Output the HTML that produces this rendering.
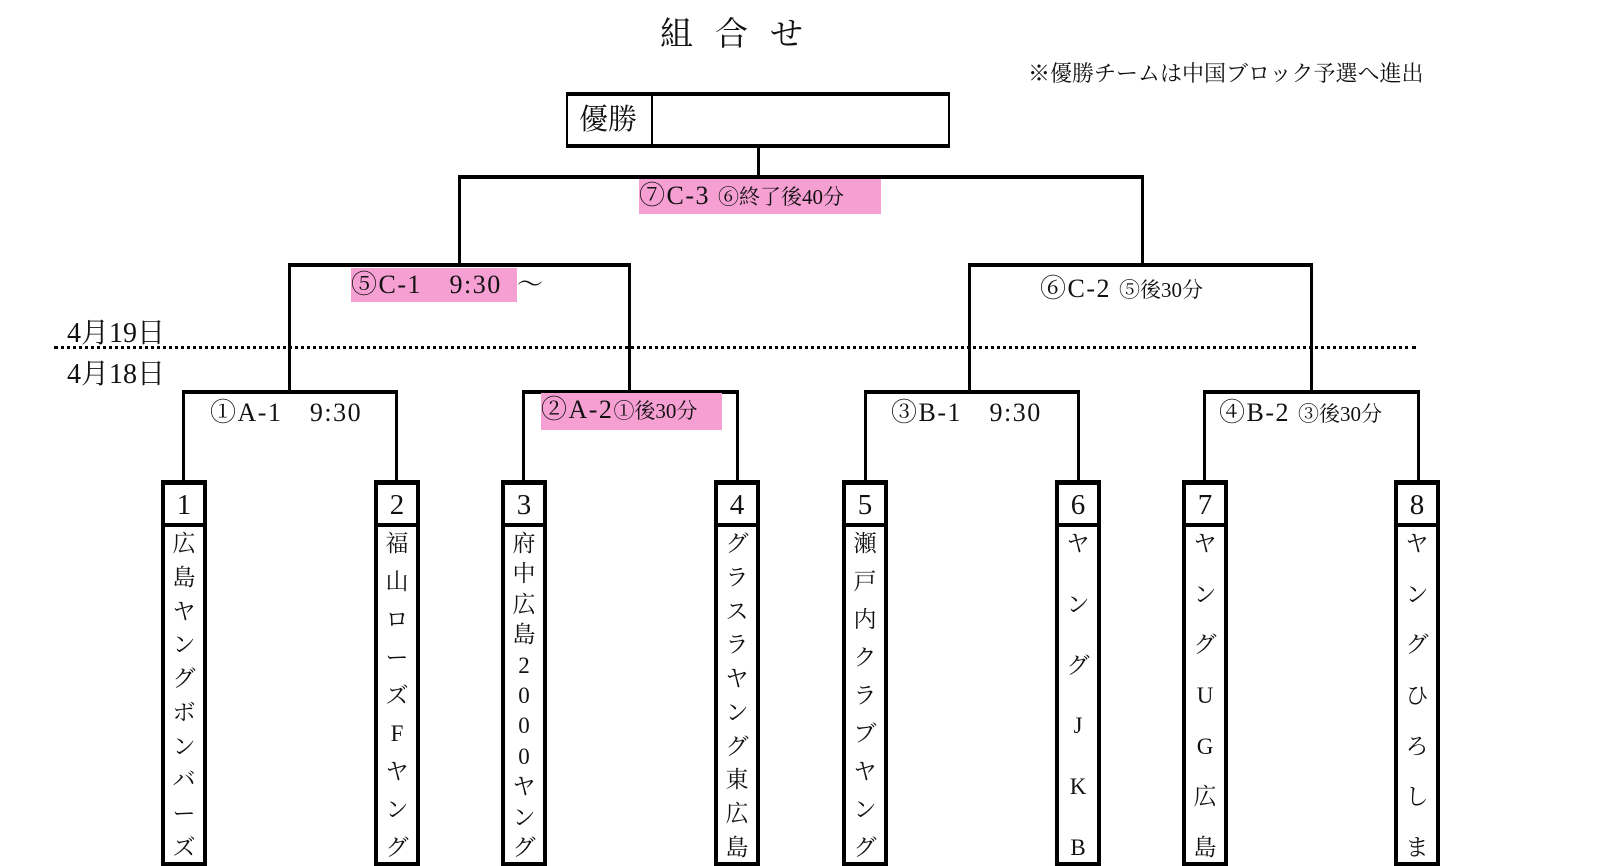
<!DOCTYPE html>
<html><head><meta charset="utf-8">
<style>
body{margin:0;width:1619px;height:862px;background:#fff;position:relative;overflow:hidden;font-family:"Liberation Serif","Noto Serif CJK SC",serif;color:#111}
.a{position:absolute}
.h{position:absolute;background:#000;height:4px}
.v{position:absolute;background:#000;width:3px}
.pink{background:#f59fd3}
.lbl{position:absolute;font-size:26px;white-space:nowrap;line-height:34px;letter-spacing:1.5px}
.lbl small{font-size:21px;letter-spacing:0}
.team{position:absolute;top:480px;width:38px;height:377px;border:4px solid #000;border-top-width:5px;border-bottom-width:4px}
.num{height:38px;border-bottom:4px solid #000;text-align:center;font-size:29px;line-height:40px}
.nm{height:335px;display:flex;flex-direction:column;justify-content:space-between;align-items:center;font-size:23px;line-height:27px;padding:3px 0 1px;box-sizing:border-box}
</style></head><body>
<div class="a" style="left:660px;top:8px;font-size:33px;letter-spacing:22px">組合せ</div>
<div class="a" style="left:1028px;top:57px;font-size:22px">※優勝チームは中国ブロック予選へ進出</div>

<div class="a" style="left:566px;top:92px;width:380px;height:48px;border:2px solid #000;border-top-width:4px;border-bottom-width:4px"></div>
<div class="v" style="left:651px;top:94px;height:50px;width:2px"></div>
<div class="a" style="left:579px;top:97px;font-size:29px">優勝</div>

<div class="v" style="left:757px;top:146px;height:32px"></div>
<div class="h" style="left:458px;top:175px;width:686px"></div>
<div class="v" style="left:458px;top:175px;height:92px"></div>
<div class="v" style="left:1141px;top:175px;height:92px"></div>
<div class="lbl pink" style="left:639px;top:179px;width:242px">⑦C-3 <small>⑥終了後40分</small></div>

<div class="h" style="left:288px;top:263px;width:343px"></div>
<div class="v" style="left:288px;top:263px;height:130px"></div>
<div class="v" style="left:628px;top:263px;height:130px"></div>
<div class="lbl" style="left:351px;top:268px"><span class="pink" style="display:inline-block;width:166px">⑤C-1　9:30</span>～</div>

<div class="h" style="left:968px;top:263px;width:345px"></div>
<div class="v" style="left:968px;top:263px;height:130px"></div>
<div class="v" style="left:1310px;top:263px;height:130px"></div>
<div class="lbl" style="left:1040px;top:272px">⑥C-2 <small>⑤後30分</small></div>

<div class="a" style="left:54px;top:346px;width:1362px;border-top:3px dotted #000"></div>
<div class="a" style="left:67px;top:311px;font-size:28px">4月19日</div>
<div class="a" style="left:67px;top:352px;font-size:28px">4月18日</div>

<div class="h" style="left:182px;top:390px;width:216px"></div>
<div class="v" style="left:182px;top:390px;height:92px"></div>
<div class="v" style="left:395px;top:390px;height:92px"></div>
<div class="lbl" style="left:210px;top:396px">①A-1　9:30</div>

<div class="h" style="left:522px;top:390px;width:217px"></div>
<div class="v" style="left:522px;top:390px;height:92px"></div>
<div class="v" style="left:736px;top:390px;height:92px"></div>
<div class="lbl pink" style="left:541px;top:393px;width:181px;height:37px">②A-2<small>①後30分</small></div>

<div class="h" style="left:864px;top:390px;width:216px"></div>
<div class="v" style="left:864px;top:390px;height:92px"></div>
<div class="v" style="left:1077px;top:390px;height:92px"></div>
<div class="lbl" style="left:891px;top:396px">③B-1　9:30</div>

<div class="h" style="left:1203px;top:390px;width:217px"></div>
<div class="v" style="left:1203px;top:390px;height:92px"></div>
<div class="v" style="left:1417px;top:390px;height:92px"></div>
<div class="lbl" style="left:1219px;top:396px">④B-2 <small>③後30分</small></div>

<div class="team" style="left:161px"><div class="num">1</div><div class="nm"><span>広</span><span>島</span><span>ヤ</span><span>ン</span><span>グ</span><span>ボ</span><span>ン</span><span>バ</span><span>ー</span><span>ズ</span></div></div>
<div class="team" style="left:374px"><div class="num">2</div><div class="nm"><span>福</span><span>山</span><span>ロ</span><span>ー</span><span>ズ</span><span>F</span><span>ヤ</span><span>ン</span><span>グ</span></div></div>
<div class="team" style="left:501px"><div class="num">3</div><div class="nm"><span>府</span><span>中</span><span>広</span><span>島</span><span>2</span><span>0</span><span>0</span><span>0</span><span>ヤ</span><span>ン</span><span>グ</span></div></div>
<div class="team" style="left:714px"><div class="num">4</div><div class="nm"><span>グ</span><span>ラ</span><span>ス</span><span>ラ</span><span>ヤ</span><span>ン</span><span>グ</span><span>東</span><span>広</span><span>島</span></div></div>
<div class="team" style="left:842px"><div class="num">5</div><div class="nm"><span>瀬</span><span>戸</span><span>内</span><span>ク</span><span>ラ</span><span>ブ</span><span>ヤ</span><span>ン</span><span>グ</span></div></div>
<div class="team" style="left:1055px"><div class="num">6</div><div class="nm"><span>ヤ</span><span>ン</span><span>グ</span><span>J</span><span>K</span><span>B</span></div></div>
<div class="team" style="left:1182px"><div class="num">7</div><div class="nm"><span>ヤ</span><span>ン</span><span>グ</span><span>U</span><span>G</span><span>広</span><span>島</span></div></div>
<div class="team" style="left:1394px"><div class="num">8</div><div class="nm"><span>ヤ</span><span>ン</span><span>グ</span><span>ひ</span><span>ろ</span><span>し</span><span>ま</span></div></div>
</body></html>
